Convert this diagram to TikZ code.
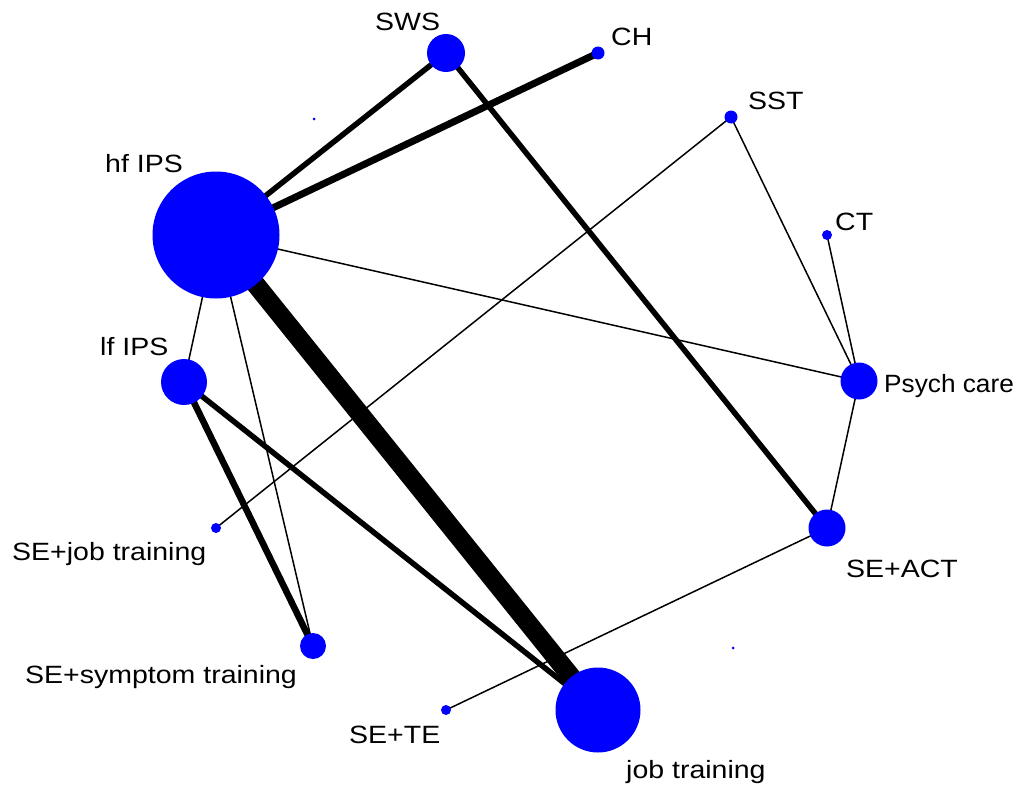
\documentclass[tikz,border=0pt]{standalone}
\usepackage{fontspec}
\setmainfont{Liberation Sans}[FakeStretch=1.14]
\pgfdeclarelayer{edges}
\pgfsetlayers{edges,main}
\begin{document}
\begin{tikzpicture}[x=1pt,y=-1pt,
  trt/.style={circle,fill=blue,draw=none,inner sep=0pt,minimum size=#1},
  lbl/.style={anchor=base west,inner sep=0pt,font=\fontsize{25}{30}\selectfont},
  thin edge/.style={line width=1.5pt},
  thick edge/.style={line width=#1}]
\useasboundingbox (0,0) rectangle (1017,787);
% treatments
\node[trt=38pt] (sws) at (446,53) {};
\node[trt=13pt] (ch) at (598,53) {};
\node[trt=13pt] (sst) at (731,117) {};
\node[trt=10pt] (ct) at (827,235) {};
\node[trt=127pt] (hf) at (216,235) {};
\node[trt=46pt] (lf) at (184,382) {};
\node[trt=37pt] (psy) at (859,381) {};
\node[trt=10pt] (sejob) at (216,528) {};
\node[trt=37pt] (seact) at (827,528) {};
\node[trt=26pt] (sesym) at (313,646) {};
\node[trt=10pt] (sete) at (446,710) {};
\node[trt=85pt] (job) at (598,710) {};
\node[trt=3pt] (d1) at (314,119) {};
\node[trt=3pt] (d2) at (733,648) {};
% connectors
\begin{pgfonlayer}{edges}
\draw[thick edge=19pt] (hf.center) -- (job.center);
\draw[thick edge=7pt] (hf.center) -- (ch.center);
\draw[thick edge=5.5pt] (hf.center) -- (sws.center);
\draw[thick edge=5.5pt] (sws.center) -- (seact.center);
\draw[thick edge=5.5pt] (lf.center) -- (job.center);
\draw[thick edge=6.5pt] (lf.center) -- (sesym.center);
\draw[thin edge] (hf.center) -- (lf.center);
\draw[thin edge] (hf.center) -- (sesym.center);
\draw[thin edge] (hf.center) -- (psy.center);
\draw[thin edge] (sst.center) -- (sejob.center);
\draw[thin edge] (sst.center) -- (psy.center);
\draw[thin edge] (ct.center) -- (psy.center);
\draw[thin edge] (psy.center) -- (seact.center);
\draw[thin edge] (seact.center) -- (sete.center);
\end{pgfonlayer}
% labels
\node[lbl] (lsws) at (375,30) {SWS};
\node[lbl] (lch) at (611,45) {CH};
\node[lbl] (lsst) at (748,109) {SST};
\node[lbl] (lhf) at (105,172) {hf IPS};
\node[lbl] (lct) at (835,230) {CT};
\node[lbl] (lpsy) at (884,392) {\scalebox{0.92}[1]{Psych care}};
\node[lbl] (llf) at (100,355) {lf IPS};
\node[lbl] (lsejob) at (12,560) {SE+job training};
\node[lbl] (lseact) at (846,577) {SE+ACT};
\node[lbl] (lsesym) at (25,683) {SE+symptom training};
\node[lbl] (lsete) at (349,743) {SE+TE};
\node[lbl] (ljob) at (626,778) {job training};
\end{tikzpicture}
\end{document}
